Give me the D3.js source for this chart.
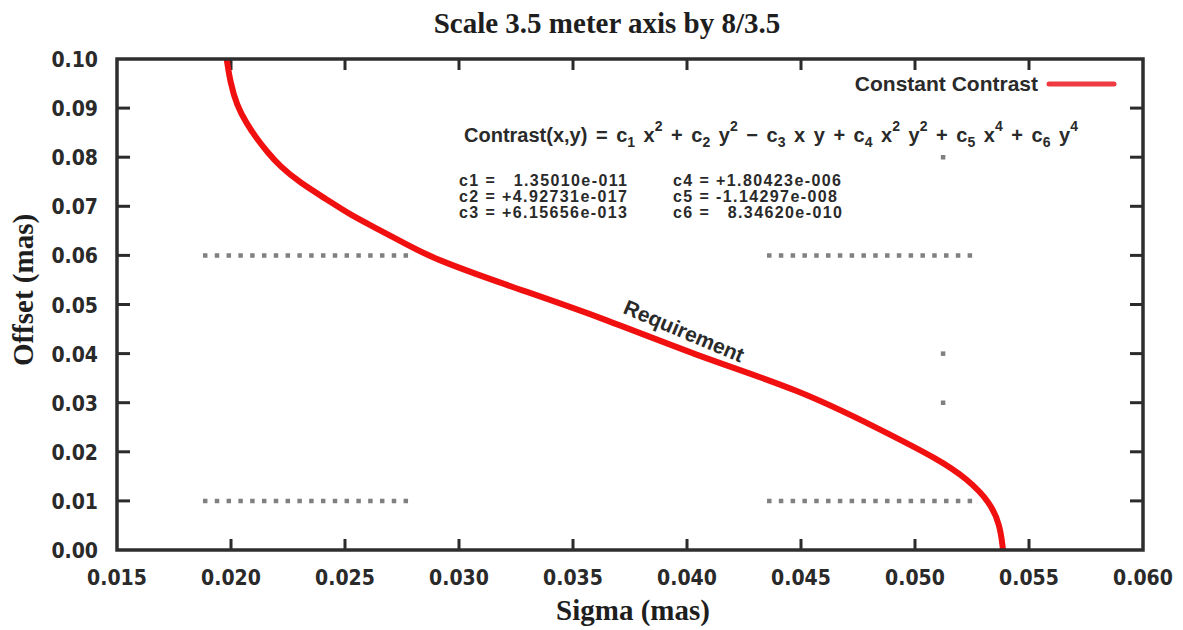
<!DOCTYPE html>
<html>
<head>
<meta charset="utf-8">
<script src="https://cdn.jsdelivr.net/npm/d3@7"></script>
<style>
  html, body { margin: 0; padding: 0; background: #fff; }
  svg { display: block; }
  .tick-label { font-family: "Liberation Sans Narrow", "DejaVu Sans Condensed", sans-serif; font-weight: bold; font-size: 21px; fill: #2a2a2a; }
  .serif { font-family: "Liberation Serif", "DejaVu Serif", serif; font-weight: bold; fill: #1e1e1e; }
  .note { font-family: "Liberation Sans", Arial, sans-serif; font-weight: bold; fill: #2a2a2a; }
</style>
</head>
<body>
<svg id="chart" width="1183" height="630"></svg>
<script>
// Axis ticks
const xTicks = [0.015, 0.020, 0.025, 0.030, 0.035, 0.040, 0.045, 0.050, 0.055, 0.060];
const yTicks = [0.00, 0.01, 0.02, 0.03, 0.04, 0.05, 0.06, 0.07, 0.08, 0.09, 0.10];

// Constant-contrast contour: sigma (x) against offset (y)
const contourSigma  = [0.01981, 0.01996, 0.02025, 0.02069, 0.02113, 0.02157, 0.02215, 0.02303,
                       0.02420, 0.02522, 0.02639, 0.02771, 0.02886, 0.03180, 0.03618, 0.04057,
                       0.04496, 0.04846, 0.05110, 0.05228, 0.05329, 0.05373, 0.05386];
const contourOffset = [0.1000, 0.0954, 0.0906, 0.0868, 0.0838, 0.0812, 0.0781, 0.0748,
                       0.0714, 0.0683, 0.0655, 0.0622, 0.0594, 0.0544, 0.0475, 0.0393,
                       0.0326, 0.0246, 0.0183, 0.0145, 0.0098, 0.0051, 0.0000];

// Requirement limits drawn as dotted segments [x0, x1, y]
const reqSegments = [
  [0.01877, 0.02798, 0.06], [0.04351, 0.05272, 0.06],
  [0.01877, 0.02798, 0.01], [0.04351, 0.05272, 0.01]
];
// Isolated dots of the dotted vertical limit
const reqDotsX = [0.05123, 0.05123, 0.05123];
const reqDotsY = [0.080, 0.040, 0.030];

// Fit coefficients
const coefLeft  = ["c1 =   1.35010e-011", "c2 = +4.92731e-017", "c3 = +6.15656e-013"];
const coefRight = ["c4 = +1.80423e-006", "c5 = -1.14297e-008", "c6 =   8.34620e-010"];

const svg = d3.select("#chart");
const plotL = 117, plotR = 1143, plotT = 59, plotB = 550;

const x = d3.scaleLinear().domain([0.015, 0.060]).range([plotL, plotR]);
const y = d3.scaleLinear().domain([0.00, 0.10]).range([plotB, plotT]);

// Title
svg.append("text").attr("class", "serif")
  .attr("x", 607).attr("y", 33).attr("text-anchor", "middle")
  .attr("font-size", 29)
  .text("Scale 3.5 meter axis by 8/3.5");

// Axis titles
svg.append("text").attr("class", "serif")
  .attr("x", 633).attr("y", 620).attr("text-anchor", "middle")
  .attr("font-size", 29)
  .text("Sigma (mas)");
svg.append("text").attr("class", "serif")
  .attr("transform", "translate(33,290) rotate(-90)")
  .attr("text-anchor", "middle")
  .attr("font-size", 29)
  .text("Offset (mas)");

// Tick marks (inward on all four sides)
const tickColor = "#2b2b2b";
const gTicks = svg.append("g").attr("stroke", tickColor).attr("stroke-width", 3);
xTicks.slice(1, -1).forEach(v => {
  gTicks.append("line").attr("x1", x(v)).attr("x2", x(v)).attr("y1", plotB).attr("y2", plotB - 11);
  gTicks.append("line").attr("x1", x(v)).attr("x2", x(v)).attr("y1", plotT).attr("y2", plotT + 11);
});
yTicks.slice(1, -1).forEach(v => {
  gTicks.append("line").attr("x1", plotL).attr("x2", plotL + 13).attr("y1", y(v)).attr("y2", y(v));
  gTicks.append("line").attr("x1", plotR).attr("x2", plotR - 13).attr("y1", y(v)).attr("y2", y(v));
});

// Tick labels
svg.append("g").selectAll("text").data(xTicks).join("text")
  .attr("class", "tick-label")
  .attr("x", d => x(d)).attr("y", plotB + 35)
  .attr("text-anchor", "middle")
  .text(d => d3.format(".3f")(d));
svg.append("g").selectAll("text").data(yTicks).join("text")
  .attr("class", "tick-label")
  .attr("x", plotL - 19).attr("y", d => y(d) + 8)
  .attr("text-anchor", "end")
  .text(d => d3.format(".2f")(d));

// Requirement limits (dotted)
svg.append("g").selectAll("line").data(reqSegments).join("line")
  .attr("x1", d => x(d[0])).attr("x2", d => x(d[1]))
  .attr("y1", d => y(d[2])).attr("y2", d => y(d[2]))
  .attr("stroke", "#808080").attr("stroke-width", 4.5)
  .attr("stroke-dasharray", "4.5,7.3");
svg.append("g").selectAll("rect").data(reqDotsX.map((v, i) => [v, reqDotsY[i]])).join("rect")
  .attr("x", d => x(d[0]) - 2.2).attr("y", d => y(d[1]) - 2.2)
  .attr("width", 4.5).attr("height", 4.5).attr("fill", "#808080");

// Formula with sub- and superscripts; each piece carries its own baseline shift
const formula = svg.append("text").attr("class", "note")
  .attr("x", 464).attr("y", 142).attr("font-size", 20)
  .attr("word-spacing", 3)
  .style("white-space", "pre");
const parts = [
  ["Contrast(x,y) = c", ""], ["1", "sub"], [" x", ""], ["2", "sup"], [" + c", ""], ["2", "sub"],
  [" y", ""], ["2", "sup"], [" − c", ""], ["3", "sub"], [" x y + c", ""], ["4", "sub"],
  [" x", ""], ["2", "sup"], [" y", ""], ["2", "sup"], [" + c", ""], ["5", "sub"],
  [" x", ""], ["4", "sup"], [" + c", ""], ["6", "sub"], [" y", ""], ["4", "sup"]
];
const shift = { "": 0, sub: 5, sup: -11 };
let current = 0;
parts.forEach(([t, kind]) => {
  const ts = formula.append("tspan").text(t).attr("dy", shift[kind] - current);
  if (kind) ts.attr("font-size", 14);
  current = shift[kind];
});

svg.append("g").selectAll("text").data(coefLeft).join("text")
  .attr("class", "note").attr("font-size", 16)
  .attr("letter-spacing", 1.4)
  .attr("x", 459).attr("y", (d, i) => 186 + i * 16)
  .style("white-space", "pre")
  .text(d => d);
svg.append("g").selectAll("text").data(coefRight).join("text")
  .attr("class", "note").attr("font-size", 16)
  .attr("letter-spacing", 1.4)
  .attr("x", 673).attr("y", (d, i) => 186 + i * 16)
  .style("white-space", "pre")
  .text(d => d);

// Contour curve
const line = d3.line().x(d => x(d[0])).y(d => y(d[1])).curve(d3.curveBasis);
svg.append("path")
  .datum(contourSigma.map((v, i) => [v, contourOffset[i]]))
  .attr("d", line)
  .attr("fill", "none").attr("stroke", "#f01010").attr("stroke-width", 6)
  .attr("stroke-linejoin", "round");

// Requirement label along the curve
svg.append("text").attr("class", "note")
  .attr("font-size", 21)
  .attr("transform", "translate(684,331) rotate(23)")
  .attr("text-anchor", "middle").attr("dy", "0.35em")
  .text("Requirement");

// Legend
svg.append("text").attr("class", "note")
  .attr("x", 1038).attr("y", 91).attr("text-anchor", "end").attr("font-size", 21)
  .text("Constant Contrast");
svg.append("line")
  .attr("x1", 1049).attr("x2", 1114).attr("y1", 84).attr("y2", 84)
  .attr("stroke", "#ee3a40").attr("stroke-width", 5).attr("stroke-linecap", "round");

// Frame
svg.append("rect")
  .attr("x", plotL).attr("y", plotT).attr("width", plotR - plotL).attr("height", plotB - plotT)
  .attr("fill", "none").attr("stroke", "#2e2e2e").attr("stroke-width", 3.5);
</script>
</body>
</html>
